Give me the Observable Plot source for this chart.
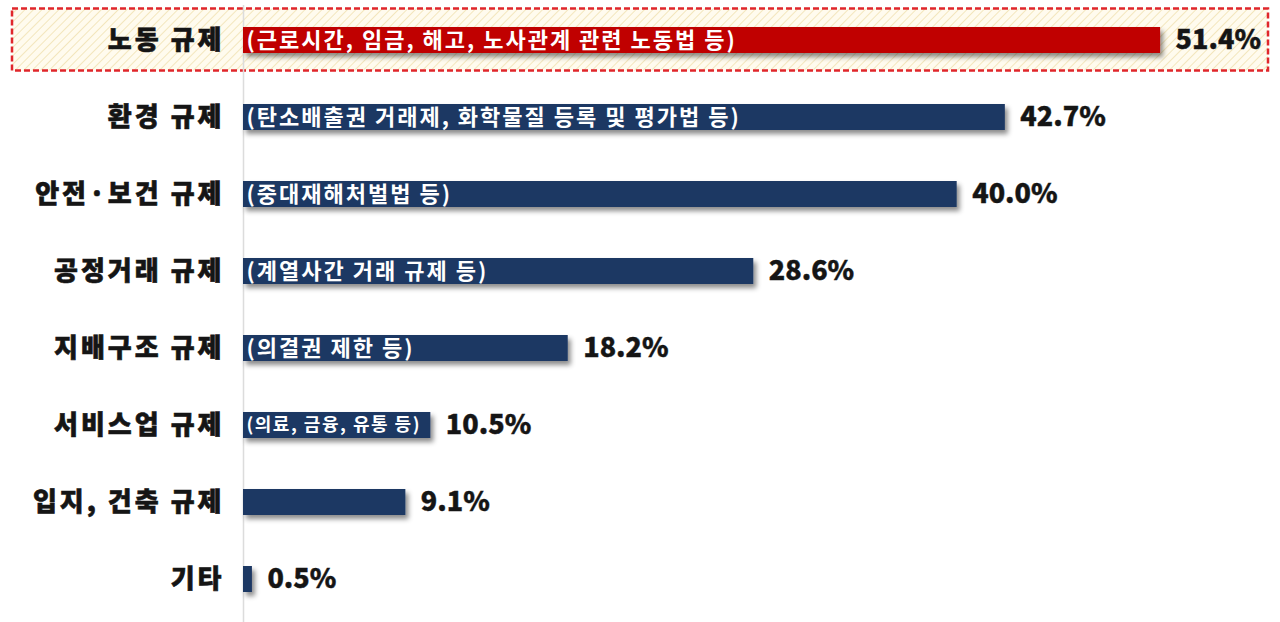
<!DOCTYPE html>
<html>
<head>
<meta charset="utf-8">
<script src="https://cdn.jsdelivr.net/npm/d3@7"></script>
<script src="https://cdn.jsdelivr.net/npm/@observablehq/plot@0.6"></script>
<style>
  html, body { margin: 0; padding: 0; background: #fff; }
  #chart svg { display: block; }
  g[aria-label="y-axis tick label"] text { letter-spacing: 3px; stroke: #151515; stroke-width: 0.6px; }
  g.value text { stroke: #151515; stroke-width: 0.4px; }
  g.note text { letter-spacing: 2px; }
  g.note text.small { letter-spacing: 1.5px; }
</style>
</head>
<body>
<div id="chart"></div>
<script>
const categories = ["노동 규제", "환경 규제", "안전·보건 규제", "공정거래 규제", "지배구조 규제", "서비스업 규제", "입지, 건축 규제", "기타"];
const values = [51.4, 42.7, 40.0, 28.6, 18.2, 10.5, 9.1, 0.5];
const notes = [
  "(근로시간, 임금, 해고, 노사관계 관련 노동법 등)",
  "(탄소배출권 거래제, 화학물질 등록 및 평가법 등)",
  "(중대재해처벌법 등)",
  "(계열사간 거래 규제 등)",
  "(의결권 제한 등)",
  "(의료, 금융, 유통 등)",
  "",
  ""
];
const highlighted = ["노동 규제"];

const data = categories.map((c, i) => ({
  cat: c,
  value: values[i],
  note: notes[i],
  label: values[i].toFixed(1) + "%",
  hl: highlighted.includes(c)
}));
const xDomain = [0, 57];

const chart = Plot.plot({
  width: 1280,
  height: 622,
  marginLeft: 243,
  marginRight: 20,
  marginTop: 11,
  marginBottom: 13,
  style: { fontFamily: "'Noto Sans CJK KR', 'Noto Sans', sans-serif", background: "#fff" },
  x: { domain: xDomain, axis: null },
  y: { domain: categories, paddingInner: 0.657, paddingOuter: 0.2, label: null },
  marks: [
    Plot.barX(data.filter(d => d.hl), {
      y: "cat", x1: () => xDomain[0], x2: () => xDomain[1],
      fill: "url(#hatch)", stroke: "#e0262b", strokeWidth: 2.5, strokeDasharray: "6,3",
      insetLeft: -231, insetRight: -8, insetTop: -18.5, insetBottom: -17.5
    }),
    Plot.ruleX([0], { stroke: "#dcdcdc", strokeWidth: 1.5, insetTop: -6, insetBottom: -13 }),
    Plot.barX(data, {
      y: "cat", x: "value",
      fill: d => d.hl ? "#c00000" : "#1f3864"
    }),
    Plot.text(data, {
      y: "cat", x: () => 0, text: "note", textAnchor: "start", dx: 3,
      fill: "#fff", fontWeight: "bold",
      fontSize: d => d.value < 15 ? 18 : 22
    }),
    Plot.text(data, {
      y: "cat", x: "value", text: "label", textAnchor: "start", dx: 15,
      fill: "#151515", fontWeight: 800, fontSize: 27
    }),
    Plot.axisY({ tickSize: 0, tickPadding: 19, fontSize: 26, fontWeight: 900, fill: "#151515", label: null })
  ]
});

const svg = d3.select(chart);
const defs = svg.insert("defs", ":first-child");
const pat = defs.append("pattern")
  .attr("id", "hatch").attr("patternUnits", "userSpaceOnUse")
  .attr("width", 6).attr("height", 6)
  .attr("patternTransform", "rotate(45)");
pat.append("rect").attr("width", 6).attr("height", 6).attr("fill", "#fffbee");
pat.append("line").attr("x1", 0).attr("y1", 0).attr("x2", 0).attr("y2", 6)
  .attr("stroke", "#f3e6bd").attr("stroke-width", 2);
const filt = defs.append("filter").attr("id", "shadow")
  .attr("x", "-10%").attr("y", "-30%").attr("width", "130%").attr("height", "190%");
filt.append("feDropShadow").attr("dx", 3).attr("dy", 4).attr("stdDeviation", 2.5)
  .attr("flood-color", "#000").attr("flood-opacity", 0.45);

const barGroups = svg.selectAll('g[aria-label="bar"]').nodes();
d3.select(barGroups[barGroups.length - 1]).attr("filter", "url(#shadow)");
const textGroups = svg.selectAll('g[aria-label="text"]').nodes();
const noteG = d3.select(textGroups[0]).classed("note", true);
noteG.selectAll("text").filter(function () { return +this.getAttribute("font-size") < 20; }).classed("small", true);
d3.select(textGroups[1]).classed("value", true);

document.getElementById("chart").appendChild(chart);
</script>
</body>
</html>
